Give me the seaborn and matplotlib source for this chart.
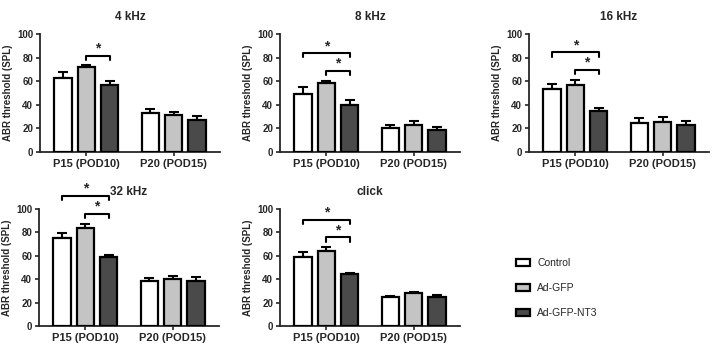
import numpy as np
import pandas as pd
import matplotlib
matplotlib.use("Agg")
import matplotlib.pyplot as plt
import seaborn as sns
from matplotlib.patches import Patch

sns.set_style("ticks")
plt.rcParams['font.family'] = ['Liberation Sans', 'DejaVu Sans']

groups = ["Control", "Ad-GFP", "Ad-GFP-NT3"]
ages = ["P15 (POD10)", "P20 (POD15)"]
titles = ["4 kHz", "8 kHz", "16 kHz", "32 kHz", "click"]

# means [P15 x 3 groups, P20 x 3 groups]
mean_4k = [[62.3, 71.7, 57.0], [32.9, 31.7, 27.5]]
err_4k = [[5.7, 1.7, 3.3], [3.4, 2.6, 2.8]]
mean_8k = [[49.0, 58.4, 40.2], [20.1, 23.2, 19.0]]
err_8k = [[5.7, 1.9, 3.7], [2.6, 2.8, 2.5]]
mean_16k = [[53.8, 56.7, 35.1], [24.9, 25.8, 23.0]]
err_16k = [[4.2, 4.3, 2.0], [3.7, 3.9, 3.0]]
mean_32k = [[75.1, 83.4, 58.6], [38.6, 40.0, 38.6]]
err_32k = [[4.3, 4.0, 1.7], [2.5, 2.9, 3.4]]
mean_click = [[59.4, 64.3, 44.3], [24.6, 28.0, 25.1]]
err_click = [[3.5, 2.8, 0.8], [1.4, 1.4, 1.2]]

means = [mean_4k, mean_8k, mean_16k, mean_32k, mean_click]
errs = [err_4k, err_8k, err_16k, err_32k, err_click]

# significance brackets: (group_i, group_j, y) within P15
sig_4k = [(1, 2, 81.6)]
sig_8k = [(0, 2, 83.6), (1, 2, 68.6)]
sig_16k = [(0, 2, 84.4), (1, 2, 69.4)]
sig_32k = [(0, 2, 110.9), (1, 2, 96.0)]
sig_click = [(0, 2, 90.9), (1, 2, 75.7)]
sigs = [sig_4k, sig_8k, sig_16k, sig_32k, sig_click]

palette = {"Control": "#ffffff", "Ad-GFP": "#c4c4c4", "Ad-GFP-NT3": "#4a4a4a"}

fig = plt.figure(figsize=(7.16, 3.44), dpi=100)
W, H = 716, 344
boxes = [(40, 34, 180, 118), (280, 34, 180, 118), (529, 34, 180, 118),
         (39, 209, 180, 117), (280, 209, 180, 117)]

for k in range(5):
    l, t, w, h = boxes[k]
    ax = fig.add_axes([l / W, 1 - (t + h) / H, w / W, h / H])
    rows = []
    for a, age in enumerate(ages):
        for g, grp in enumerate(groups):
            rows.append({"age": age, "group": grp, "value": means[k][a][g], "err": errs[k][a][g]})
    df = pd.DataFrame(rows)
    sns.barplot(data=df, x="age", y="value", hue="group", hue_order=groups, order=ages,
                palette=palette, edgecolor="black", linewidth=1.6, gap=0.26,
                errorbar=None, ax=ax, legend=False, zorder=3)
    bar_conts = list(ax.containers)
    centers = {}
    for g, cont in enumerate(bar_conts):
        for a, bar in enumerate(cont.patches):
            cx = bar.get_x() + bar.get_width() / 2
            centers[(a, g)] = cx
            hgt = bar.get_height()
            ax.errorbar(cx, hgt, yerr=[[0], [errs[k][a][g]]], fmt="none", ecolor="black",
                        elinewidth=1.5, capsize=3.5, capthick=1.5, zorder=2)
    for (i, j, y) in sigs[k]:
        x1, x2 = centers[(0, i)], centers[(0, j)]
        ax.plot([x1, x1, x2, x2], [y - 3.5, y, y, y - 3.5], color="black", lw=1.5,
                clip_on=False, zorder=4)
        ax.text((x1 + x2) / 2, y + 0.3, "*", ha="center", va="bottom", fontsize=10,
                fontweight="bold", clip_on=False)
    ax.set_ylim(0, 100)
    ax.set_xlim(-0.53, 1.53)
    ax.set_yticks([0, 20, 40, 60, 80, 100])
    ax.set_xlabel("")
    ax.set_ylabel("ABR threshold (SPL)", fontsize=7, fontweight="bold", labelpad=3)
    ax.set_title(titles[k], fontsize=8.5, fontweight="bold", pad=10)
    ax.tick_params(axis="y", labelsize=7, width=1.2, length=3, pad=2)
    ax.tick_params(axis="x", labelsize=8, width=1.2, length=3, pad=2)
    for lab in ax.get_xticklabels() + ax.get_yticklabels():
        lab.set_fontweight("bold")
    sns.despine(ax=ax)
    for s in ["left", "bottom"]:
        ax.spines[s].set_linewidth(1.3)

handles = [Patch(facecolor=palette[g], edgecolor="black", linewidth=1.6, label=g) for g in groups]
fig.legend(handles=handles, loc="upper left", bbox_to_anchor=(0.72, 0.25), frameon=False,
           fontsize=7.5, labelspacing=1.45, handlelength=1.4, handleheight=0.7,
           handletextpad=0.7, borderaxespad=0, borderpad=0)

fig.savefig("out.png", dpi=100)
